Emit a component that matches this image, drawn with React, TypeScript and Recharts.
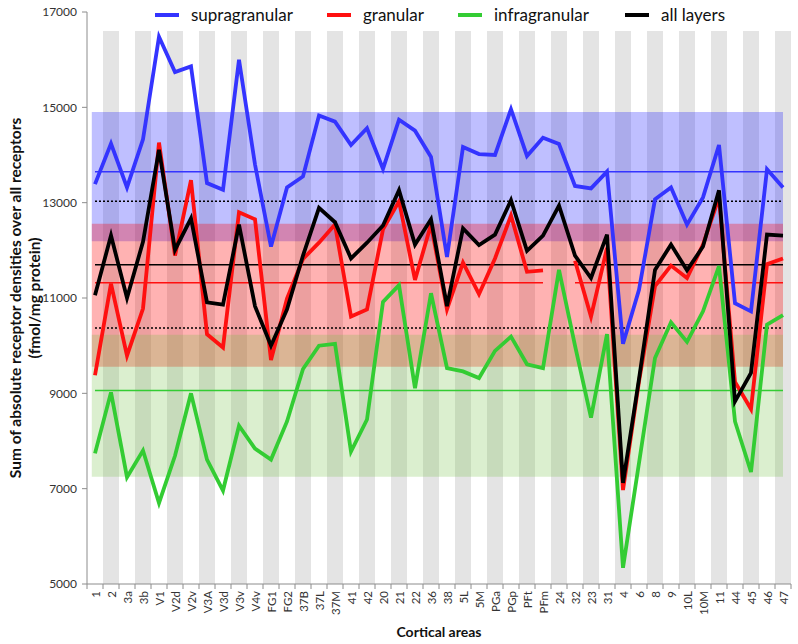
import React from "react";
import { ComposedChart, Line, XAxis, YAxis, ReferenceArea, ReferenceLine } from "recharts";

const CATEGORIES = [
  "1", "2", "3a", "3b", "V1", "V2d", "V2v", "V3A", "V3d", "V3v", "V4v", "FG1", "FG2",
  "37B", "37L", "37M", "41", "42", "20", "21", "22", "36", "38", "5L", "5M", "PGa",
  "PGp", "PFt", "PFm", "24", "32", "23", "31", "4", "6", "8", "9", "10L", "10M", "11",
  "44", "45", "46", "47",
];

const SUPRAGRANULAR = [
  13390, 14240, 13320, 14330, 16480, 15740, 15860, 13410, 13270, 16000, 13800, 12080, 13320,
  13550, 14830, 14700, 14210, 14560, 13710, 14740, 14510, 13960, 11860, 14170, 14020, 14000,
  14960, 13980, 14360, 14230, 13350, 13300, 13650, 10040, 11170, 13070, 13320, 12540, 13110, 14210,
  10890, 10720, 13700, 13320,
];

// granular has no value for area 24
const GRANULAR = [
  9380, 11300, 9790, 10780, 14260, 11890, 13470, 10240, 9960, 12800, 12650, 9700, 10990,
  11820, 12160, 12540, 10610, 10760, 12440, 13030, 11380, 12540, 10760, 11740, 11080, 11830,
  12730, 11550, 11580, null, 11780, 10610, 12050, 6970, 9250, 11250, 11680, 11420, 12120, 13110,
  9240, 8670, 11710, 11830,
];

const INFRAGRANULAR = [
  7740, 9020, 7240, 7800, 6700, 7690, 9000, 7610, 6960, 8320, 7840, 7610, 8410,
  9510, 10000, 10040, 7780, 8450, 10920, 11270, 9110, 11100, 9530, 9460, 9320, 9890,
  10190, 9610, 9530, 11590, 10000, 8490, 10240, 5340, 7540, 9740, 10490, 10080, 10720, 11670,
  8410, 7350, 10440, 10640,
];

const ALL_LAYERS = [
  11060, 12310, 11000, 12180, 14110, 12010, 12670, 10910, 10860, 12540, 10830, 10000, 10760,
  11890, 12890, 12590, 11830, 12160, 12520, 13260, 12120, 12650, 10830, 12460, 12110, 12330,
  13050, 11990, 12310, 12940, 11890, 11420, 12330, 7120, 9300, 11590, 12120, 11580, 12080, 13260,
  8830, 9430, 12330, 12310,
];

const Y_TICKS = [5000, 7000, 9000, 11000, 13000, 15000, 17000];

// mean lines and ±SD bands
const SUPRA_MEAN = 13650;
const GRANULAR_MEAN = 11320;
const INFRA_MEAN = 9060;
const ALL_MEAN = 11700;
const ALL_SD_LINES = [10370, 13030];
const SUPRA_BAND = [12190, 14900];
const GRANULAR_BAND = [9560, 12560];
const INFRA_BAND = [7250, 10230];
const STRIPE_TOP = 16600;
const GRANULAR_GAP = "24";

const SERIES = [
  { key: "supra", name: "supragranular", color: "#3434ff" },
  { key: "granular", name: "granular", color: "#ff1010" },
  { key: "infra", name: "infragranular", color: "#33cc33" },
  { key: "all", name: "all layers", color: "#000000" },
];

const W = 798;
const H = 644;
const MARGIN = { top: 12, right: 7, bottom: 0, left: 0 };
const Y_AXIS_W = 87;
const X_AXIS_H = 60;
const BAND = (W - MARGIN.right - MARGIN.left - Y_AXIS_W) / CATEGORIES.length;
const FONT = "Lato, 'Open Sans', sans-serif";
const AXIS_GREY = "#8c8c8c";

const data = CATEGORIES.map((area, i) => ({
  area,
  idx: i,
  supra: SUPRAGRANULAR[i],
  granular: GRANULAR[i],
  infra: INFRAGRANULAR[i],
  all: ALL_LAYERS[i],
}));

const gapIdx = CATEGORIES.indexOf(GRANULAR_GAP);
const first = CATEGORIES[0];
const last = CATEGORIES[CATEGORIES.length - 1];

function AreaTick(props: any) {
  const { x, y, payload, index } = props;
  const ty = y + 7;
  return (
    <g>
      <line x1={x - BAND / 2} y1={y} x2={x - BAND / 2} y2={y + 5} stroke={AXIS_GREY} />
      {index === CATEGORIES.length - 1 && (
        <line x1={x + BAND / 2} y1={y} x2={x + BAND / 2} y2={y + 5} stroke={AXIS_GREY} />
      )}
      <text
        x={x}
        y={ty}
        transform={`rotate(-90 ${x} ${ty})`}
        textAnchor="end"
        dominantBaseline="central"
        fontSize={11.5}
        fontFamily={FONT}
        fill="#333"
      >
        {payload.value}
      </text>
    </g>
  );
}

function YTitle(props: any) {
  const vb = props.viewBox || {};
  const cy = (vb.y ?? 12) + (vb.height ?? 572) / 2;
  return (
    <g fontFamily={FONT} fontWeight="bold" fontSize={15.5} fill="#111" textAnchor="middle">
      <text x={15} y={cy} transform={`rotate(-90 15 ${cy})`} dominantBaseline="central">
        Sum of absolute receptor densities over all receptors
      </text>
      <text x={34} y={cy} transform={`rotate(-90 34 ${cy})`} dominantBaseline="central">
        (fmol/mg protein)
      </text>
    </g>
  );
}

function XTitle(props: any) {
  const vb = props.viewBox || {};
  const cx = (vb.x ?? 87) + (vb.width ?? 704) / 2;
  return (
    <text x={cx} y={637} textAnchor="middle" fontFamily={FONT} fontWeight="bold" fontSize={14} fill="#111">
      Cortical areas
    </text>
  );
}

const LEGEND_POS = [155, 327, 458, 625];

function LegendRow() {
  return (
    <div style={{ position: "absolute", left: 0, top: 0, width: W, height: 30 }}>
      {SERIES.map((s, i) => (
        <div
          key={s.key}
          style={{
            position: "absolute",
            left: LEGEND_POS[i],
            top: 4,
            display: "flex",
            alignItems: "center",
            fontFamily: FONT,
            fontSize: 17,
            color: "#111",
            whiteSpace: "nowrap",
          }}
        >
          <span style={{ display: "inline-block", width: 24, height: 4, background: s.color, marginRight: 12 }} />
          {s.name}
        </div>
      ))}
    </div>
  );
}

export default function App() {
  return (
    <div style={{ position: "absolute", left: 0, top: 0, width: W, height: H, background: "#fff" }}>
      <ComposedChart width={W} height={H} data={data} margin={MARGIN}>
        <XAxis
          dataKey="area"
          scale="band"
          interval={0}
          height={X_AXIS_H}
          tickLine={false}
          tickSize={0}
          tickMargin={0}
          tick={<AreaTick />}
          axisLine={{ stroke: AXIS_GREY }}
          label={{ content: (p: any) => <XTitle {...p} /> }}
        />
        <XAxis xAxisId="idx" type="number" dataKey="idx" domain={[-0.5, CATEGORIES.length - 0.5]} hide />
        <YAxis
          domain={[5000, 17000]}
          ticks={Y_TICKS}
          width={Y_AXIS_W}
          tickSize={5}
          tickMargin={5}
          tickLine={{ stroke: AXIS_GREY }}
          axisLine={{ stroke: AXIS_GREY }}
          tick={{ fontSize: 12, fontFamily: FONT, fill: "#333" }}
          allowDataOverflow
          label={{ content: (p: any) => <YTitle {...p} /> }}
        />

        {CATEGORIES.filter((_, i) => i % 2 === 1).map((c) => (
          <ReferenceArea key={c} x1={c} x2={c} y1={5000} y2={STRIPE_TOP} fill="#e4e4e4" fillOpacity={1} stroke="none" />
        ))}

        <ReferenceArea xAxisId="idx" x1={-0.2} x2={CATEGORIES.length - 1} y1={SUPRA_BAND[0]} y2={SUPRA_BAND[1]} fill="#0000ff" fillOpacity={0.25} stroke="none" />
        <ReferenceArea xAxisId="idx" x1={-0.2} x2={CATEGORIES.length - 1} y1={GRANULAR_BAND[0]} y2={GRANULAR_BAND[1]} fill="#ff0000" fillOpacity={0.3} stroke="none" />
        <ReferenceArea xAxisId="idx" x1={-0.2} x2={CATEGORIES.length - 1} y1={INFRA_BAND[0]} y2={INFRA_BAND[1]} fill="#70c040" fillOpacity={0.25} stroke="none" />

        <ReferenceLine segment={[{ x: first, y: SUPRA_MEAN }, { x: last, y: SUPRA_MEAN }]} stroke="#3434ff" strokeWidth={1.5} />
        <ReferenceLine segment={[{ x: first, y: ALL_MEAN }, { x: last, y: ALL_MEAN }]} stroke="#000" strokeWidth={1.5} />
        {ALL_SD_LINES.map((v) => (
          <ReferenceLine key={v} segment={[{ x: first, y: v }, { x: last, y: v }]} stroke="#000" strokeWidth={1.5} strokeDasharray="2 2" />
        ))}
        <ReferenceLine segment={[{ x: first, y: GRANULAR_MEAN }, { x: CATEGORIES[gapIdx - 1], y: GRANULAR_MEAN }]} stroke="#ff1010" strokeWidth={1.5} />
        <ReferenceLine segment={[{ x: CATEGORIES[gapIdx + 1], y: GRANULAR_MEAN }, { x: last, y: GRANULAR_MEAN }]} stroke="#ff1010" strokeWidth={1.5} />
        <ReferenceLine segment={[{ x: first, y: INFRA_MEAN }, { x: last, y: INFRA_MEAN }]} stroke="#33cc33" strokeWidth={1.5} />

        {SERIES.map((s) => (
          <Line
            key={s.key}
            dataKey={s.key}
            name={s.name}
            stroke={s.color}
            strokeWidth={3.8}
            dot={false}
            activeDot={false}
            isAnimationActive={false}
          />
        ))}
      </ComposedChart>
      <LegendRow />
    </div>
  );
}
